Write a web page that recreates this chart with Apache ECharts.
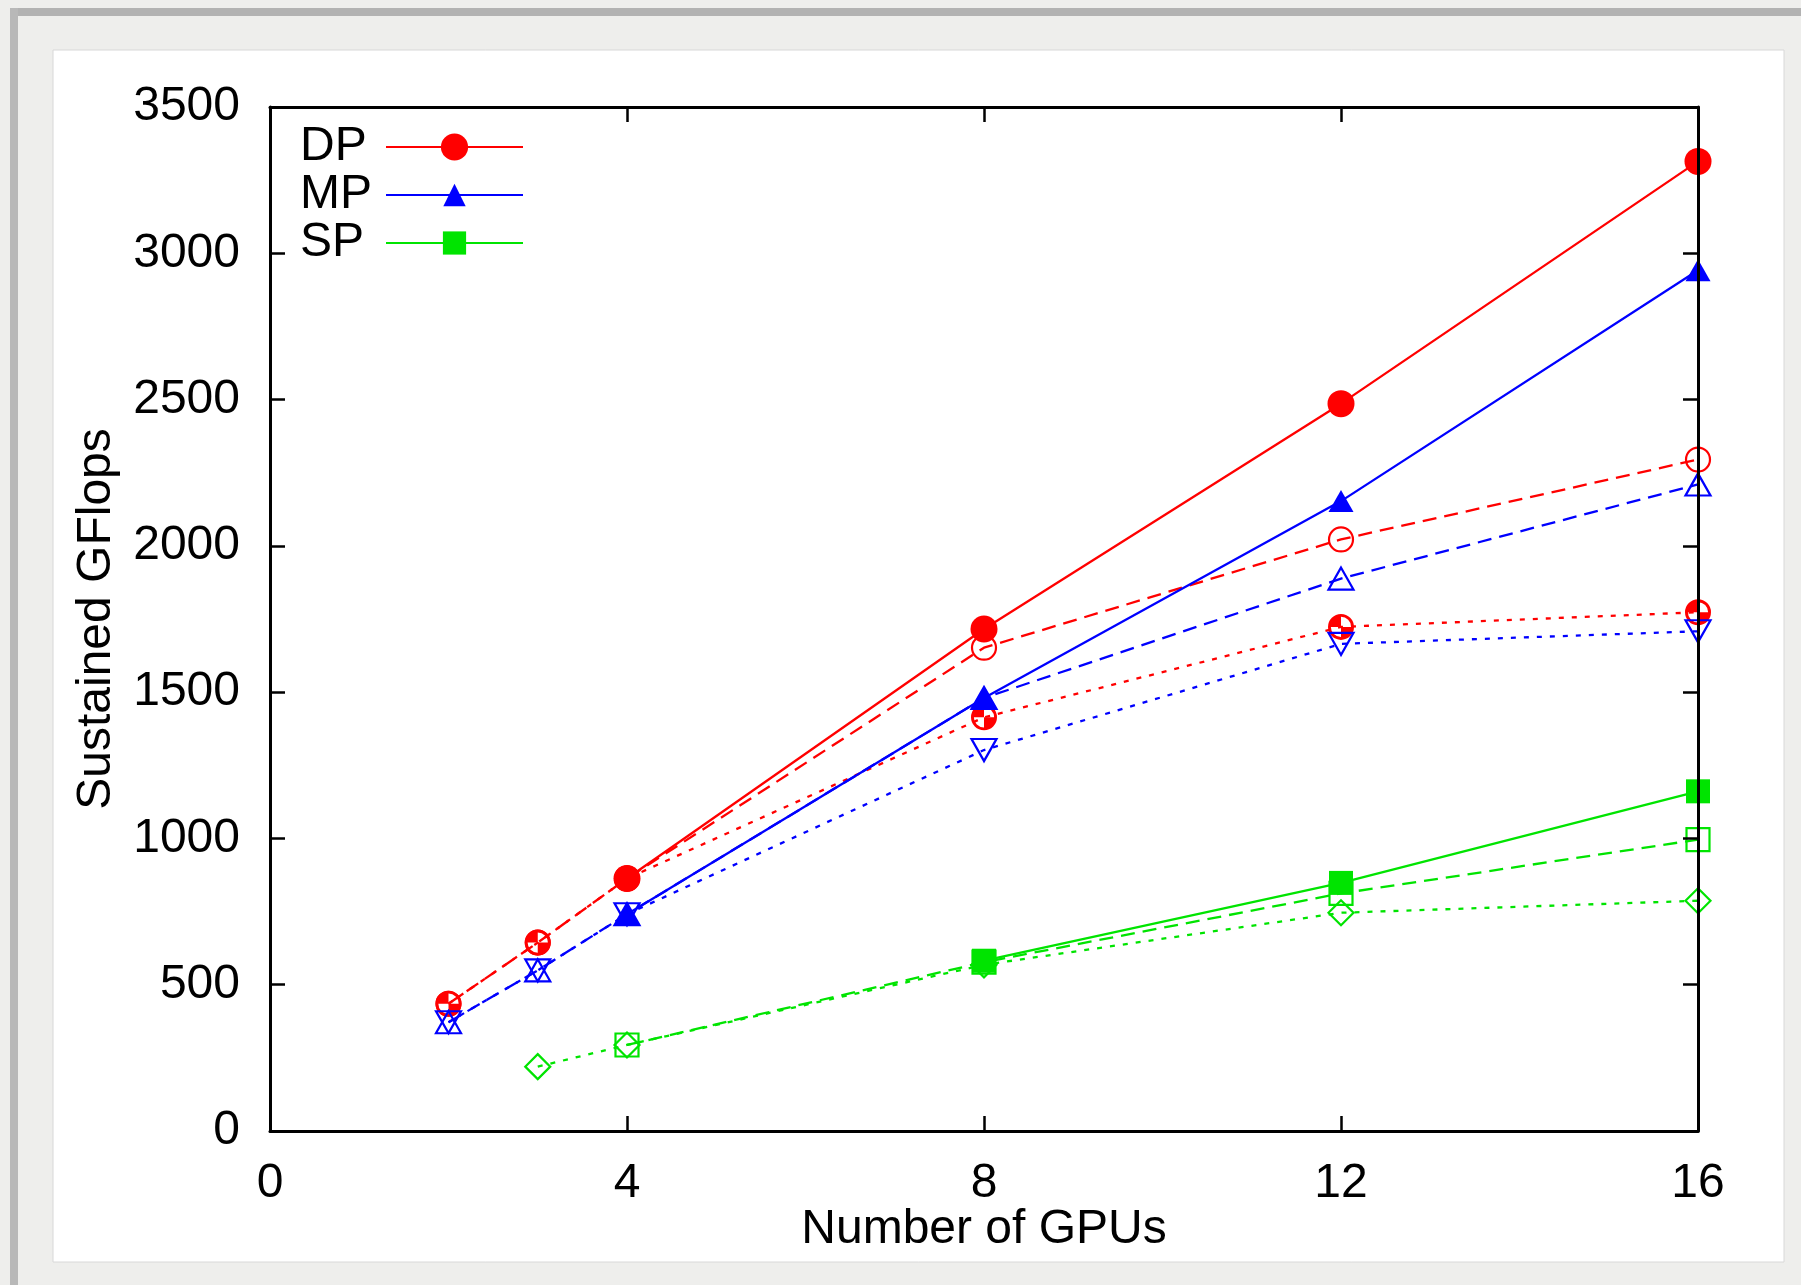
<!DOCTYPE html>
<html><head><meta charset="utf-8">
<script src="https://cdn.jsdelivr.net/npm/echarts@6/dist/echarts.min.js"></script>
<style>html,body{margin:0;padding:0;background:#eeeeec}#c{width:1801px;height:1285px}</style>
</head><body><div id="c"></div>
<script>
// ---- data ----
const gpus     = [2, 3, 4, 8, 12, 16];
const dpSolid  = [null, null, 863, 1716, 2486, 3314];
const dpDashed = [435, 644, 863, 1652, 2022, 2295];
const dpDotted = [435, 644, 863, 1414, 1723, 1773];
const mpSolid  = [null, null, 741, 1480, 2153, 2942];
const mpDashed = [372, 549, 741, 1480, 1888, 2210];
const mpDotted = [372, 549, 741, 1302, 1665, 1708];
const spSolid  = [null, null, null, 582, 848, 1161];
const spDashed = [null, null, 294, 577, 812, 996];
const spDotted = [null, 220, 294, 568, 746, 787];
const xTicks = [0, 4, 8, 12, 16];
const yTicks = [0, 500, 1000, 1500, 2000, 2500, 3000, 3500];
const legendNames = ['DP', 'MP', 'SP'];

const FONT = '"Liberation Sans", Arial, Helvetica, sans-serif';
const RED = '#ff0000', BLUE = '#0000ff', GREEN = '#00e400';
const DASH = [14, 8], DOT = [5, 8];
const QUAD = 'path://M50,0A50,50 0 1,1 50,100A50,50 0 1,1 50,0Z M50,11A39,39 0 1,0 50,89A39,39 0 1,0 50,11Z M50,50L11,50A39,39 0 0,1 50,11Z M50,50L89,50A39,39 0 0,1 50,89Z';

function pairs(vals) {
  return gpus.map((g, i) => [g, vals[i]]).filter(p => p[1] !== null);
}
function mk(name, vals, color, type, symbol, size, empty, rotate) {
  return {
    name: name, type: 'line', data: pairs(vals), clip: false,
    symbol: symbol, symbolSize: size, symbolRotate: rotate || 0,
    lineStyle: { color: color, width: 2.3, type: type },
    itemStyle: empty ? { color: 'rgba(0,0,0,0)', borderColor: color, borderWidth: 2.2 }
                     : { color: color, borderWidth: 0 },
    emphasis: { disabled: true }, animation: false
  };
}

const series = [
  mk(legendNames[0], dpSolid, RED, 'solid', 'circle', 27, false),
  mk('DP dashed', dpDashed, RED, DASH, 'circle', 24, true),
  mk('DP dotted', dpDotted, RED, DOT, QUAD, 26, false),
  mk(legendNames[1], mpSolid, BLUE, 'solid', 'triangle', [25, 22], false),
  mk('MP dashed', mpDashed, BLUE, DASH, 'triangle', [25, 22], true),
  mk('MP dotted', mpDotted, BLUE, DOT, 'triangle', [25, 22], true, 180),
  mk(legendNames[2], spSolid, GREEN, 'solid', 'rect', 24, false),
  mk('SP dashed', spDashed, GREEN, DASH, 'rect', 23, true),
  mk('SP dotted', spDotted, GREEN, DOT, 'diamond', 25, true)
];

function legend(name, top, ih) {
  return {
    data: [name], left: 300, top: top, padding: 0, align: 'right',
    itemWidth: 137, itemHeight: ih, selectedMode: false,
    formatter: '{t|{name}}',
    textStyle: { fontSize: 48, fontFamily: FONT, color: '#000',
      rich: { t: { width: 81, align: 'left', fontSize: 48, fontFamily: FONT, color: '#000', lineHeight: 48 } } }
  };
}

const axisCommon = {
  type: 'value', z: 10,
  axisLine: { show: true, onZero: false, lineStyle: { color: '#000', width: 3 } },
  axisTick: { show: true, inside: true, length: 15, lineStyle: { color: '#000', width: 2.5 } },
  splitLine: { show: false }
};
const xMin = xTicks[0], xMax = xTicks[xTicks.length - 1], xInt = xTicks[1] - xTicks[0];
const yMin = yTicks[0], yMax = yTicks[yTicks.length - 1], yInt = yTicks[1] - yTicks[0];
const plain = v => String(v);

const option = {
  backgroundColor: '#eeeeec',
  animation: false,
  textStyle: { fontFamily: FONT },
  graphic: { elements: [
    { type: 'rect', silent: true, z: -100, shape: { x: 10, y: 8, width: 1791, height: 8 }, style: { fill: '#b2b2b2' } },
    { type: 'rect', silent: true, z: -100, shape: { x: 10, y: 8, width: 8, height: 1277 }, style: { fill: '#b8b8b8' } },
    { type: 'rect', silent: true, z: -100, shape: { x: 53, y: 50, width: 1731, height: 1212 }, style: { fill: '#ffffff', stroke: '#d8d8d8', lineWidth: 1 } }
  ] },
  grid: { left: 270, right: 103, top: 107, bottom: 154, containLabel: false },
  legend: [legend('DP', 123, 34), legend('MP', 171, 28), legend('SP', 219, 29)],
  xAxis: [
    Object.assign({}, axisCommon, {
      position: 'bottom', min: xMin, max: xMax, interval: xInt,
      axisLabel: { show: true, fontSize: 48, fontFamily: FONT, color: '#000', margin: 29, formatter: plain },
      name: 'Number of GPUs', nameLocation: 'middle', nameGap: 75, nameMoveOverlap: false,
      nameTextStyle: { fontSize: 48, fontFamily: FONT, color: '#000' }
    }),
    Object.assign({}, axisCommon, {
      position: 'top', min: xMin, max: xMax, interval: xInt, axisLabel: { show: false }
    })
  ],
  yAxis: [
    Object.assign({}, axisCommon, {
      position: 'left', min: yMin, max: yMax, interval: yInt,
      axisLabel: { show: true, fontSize: 48, fontFamily: FONT, color: '#000', margin: 30, formatter: plain },
      name: 'Sustained GFlops', nameLocation: 'middle', nameGap: 149, nameMoveOverlap: false,
      nameTextStyle: { fontSize: 48, fontFamily: FONT, color: '#000' }
    }),
    Object.assign({}, axisCommon, {
      position: 'right', min: yMin, max: yMax, interval: yInt, axisLabel: { show: false }
    })
  ],
  series: series
};

const chart = echarts.init(document.getElementById('c'), null, { renderer: 'canvas' });
chart.setOption(option);
</script></body></html>
